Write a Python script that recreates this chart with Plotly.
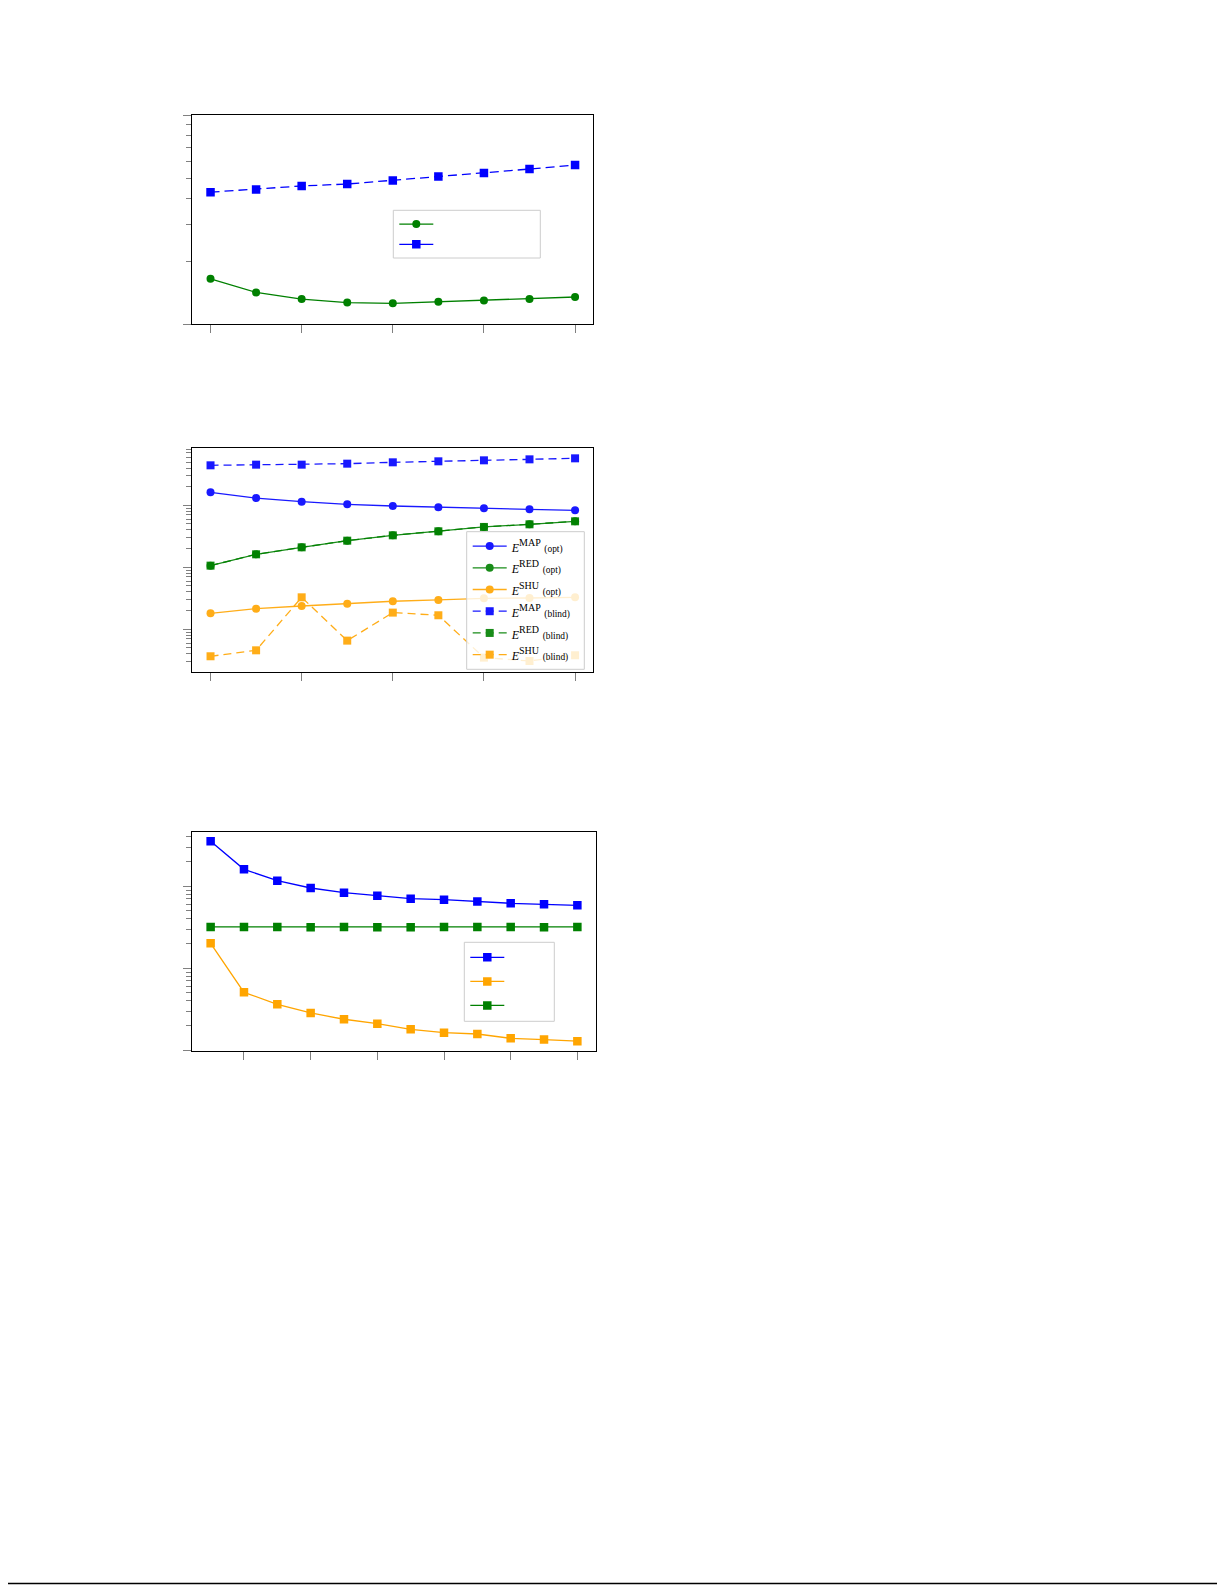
import plotly.graph_objects as go

# page is 1225x1585; body margin of 8px is compensated below
W, H = 1209, 1577
OFF = 8

# ---------------- data ----------------
# Panel 1
p1_x = [0, 1, 2, 3, 4, 5, 6, 7, 8]
p1_green = [1.65, 1.42, 1.32, 1.27, 1.26, 1.28, 1.30, 1.32, 1.35]
p1_blue = [4.28, 4.41, 4.58, 4.68, 4.87, 5.09, 5.28, 5.52, 5.77]
p1_xticks = [0, 2, 4, 6, 8]

# Panel 2
p2_x = [0, 1, 2, 3, 4, 5, 6, 7, 8]
p2_map_opt = [1.62, 1.31, 1.146, 1.038, 0.975, 0.929, 0.895, 0.861, 0.830]
p2_red_opt = [0.1064, 0.162, 0.210, 0.269, 0.328, 0.381, 0.448, 0.494, 0.552]
p2_shu_opt = [0.01811, 0.02153, 0.02377, 0.02594, 0.02831, 0.02972, 0.03162, 0.03199, 0.03281]
p2_map_blind = [4.42, 4.53, 4.53, 4.70, 4.94, 5.13, 5.32, 5.52, 5.73]
p2_red_blind = [0.1064, 0.162, 0.210, 0.269, 0.328, 0.381, 0.448, 0.494, 0.552]
p2_shu_blind = [0.00367, 0.00458, 0.0328, 0.00656, 0.01858, 0.01683, 0.00349, 0.00308, 0.00381]
p2_xticks = [0, 2, 4, 6, 8]
p2_labels = [("MAP", "opt"), ("RED", "opt"), ("SHU", "opt"),
             ("MAP", "blind"), ("RED", "blind"), ("SHU", "blind")]

# Panel 3
p3_x = [1, 2, 3, 4, 5, 6, 7, 8, 9, 10, 11, 12]
p3_blue = [3.53, 1.61, 1.172, 0.953, 0.836, 0.769, 0.706, 0.687, 0.650, 0.620, 0.603, 0.586]
p3_orange = [0.2017, 0.0509, 0.0364, 0.0285, 0.0239, 0.0211, 0.0180, 0.0164, 0.0158, 0.0140, 0.0135, 0.0129]
p3_green = [0.319, 0.319, 0.319, 0.317, 0.319, 0.317, 0.317, 0.319, 0.319, 0.319, 0.317, 0.319]
p3_xticks = [2, 4, 6, 8, 10, 12]

BLUE = "#0000ff"
GREEN = "#008000"
ORANGE = "#ffa500"
TICKC = "#808080"


def px_x(v):
    return (v - OFF) / W


def px_y(v):
    return 1 - (v - OFF) / H


fig = go.Figure()

# ---------------- panel 1 ----------------
fig.add_trace(go.Scatter(x=p1_x, y=p1_green, mode="lines+markers", xaxis="x", yaxis="y",
                         line=dict(color=GREEN, width=1.3),
                         marker=dict(symbol="circle", size=8, color=GREEN),
                         name="", legend="legend"))
fig.add_trace(go.Scatter(x=p1_x, y=p1_blue, mode="lines+markers", xaxis="x", yaxis="y",
                         line=dict(color=BLUE, width=1.3, dash="9px,5px"),
                         marker=dict(symbol="square", size=8.5, color=BLUE),
                         name="", showlegend=False))
# legend key for the blue series (drawn solid in the key, as in the reference)
fig.add_trace(go.Scatter(x=[None], y=[None], mode="lines+markers", xaxis="x", yaxis="y",
                         line=dict(color=BLUE, width=1.3),
                         marker=dict(symbol="square", size=8.5, color=BLUE),
                         name="", legend="legend", hoverinfo="skip"))

# ---------------- panel 2 ----------------
p2_series = [
    (p2_map_opt, BLUE, "circle", "solid"),
    (p2_red_opt, GREEN, "circle", "solid"),
    (p2_shu_opt, ORANGE, "circle", "solid"),
    (p2_map_blind, BLUE, "square", "8px,5px"),
    (p2_red_blind, GREEN, "square", "8px,5px"),
    (p2_shu_blind, ORANGE, "square", "8px,5px"),
]
for (vals, col, sym, dash), (sup, tag) in zip(p2_series, p2_labels):
    nm = ("<span style='font-size:12px'><i>E</i></span>"
          "<sup><span style='font-size:10px'>%s</span></sup> "
          "<span style='font-size:9.4px'>(%s)</span>") % (sup, tag)
    fig.add_trace(go.Scatter(x=p2_x, y=vals, mode="lines+markers", xaxis="x2", yaxis="y2",
                             line=dict(color=col, width=1.3, dash=dash),
                             marker=dict(symbol=sym, size=8, color=col),
                             opacity=0.9, name=nm, legend="legend2"))

# ---------------- panel 3 ----------------
for vals, col in [(p3_blue, BLUE), (p3_orange, ORANGE), (p3_green, GREEN)]:
    fig.add_trace(go.Scatter(x=p3_x, y=vals, mode="lines+markers", xaxis="x3", yaxis="y3",
                             line=dict(color=col, width=1.3),
                             marker=dict(symbol="square", size=8.5, color=col),
                             name="", legend="legend3"))


def xcfg(domain, rng, tickvals, anchor):
    return dict(domain=domain, range=rng, anchor=anchor, showgrid=False, zeroline=False,
                showline=True, mirror=True, linecolor="black", linewidth=1.3,
                ticks="outside", ticklen=8, tickwidth=1, tickcolor=TICKC,
                tickmode="array", tickvals=tickvals, showticklabels=False)


def ycfg(domain, rng, anchor):
    return dict(domain=domain, range=rng, anchor=anchor, type="log", showgrid=False, zeroline=False,
                showline=True, mirror=True, linecolor="black", linewidth=1.3,
                ticks="outside", ticklen=8, tickwidth=1, tickcolor=TICKC,
                dtick=1, showticklabels=False,
                minor=dict(ticks="outside", ticklen=5.5, tickwidth=1, tickcolor=TICKC,
                           dtick="D1", showgrid=False))


def leg(x, y, size):
    return dict(bgcolor="rgba(0,0,0,0)", bordercolor="rgba(0,0,0,0)", borderwidth=1,
                xanchor="left", yanchor="top", itemwidth=34, x=px_x(x), y=px_y(y),
                font=dict(family="Liberation Serif", size=size, color="black"))


def box(x0, x1, y0, y1, fill):
    return dict(type="rect", xref="paper", yref="paper", layer="above",
                x0=px_x(x0), x1=px_x(x1), y0=px_y(y1), y1=px_y(y0),
                fillcolor=fill, line=dict(color="#cccccc", width=1))


fig.update_layout(
    width=W, height=H, margin=dict(l=0, r=0, t=0, b=0),
    paper_bgcolor="white", plot_bgcolor="white", showlegend=True,
    xaxis=xcfg([px_x(192.3), px_x(593.3)], [-0.4, 8.4], p1_xticks, "y"),
    yaxis=ycfg([px_y(324.3), px_y(115)], [0, 1], "x"),
    xaxis2=xcfg([px_x(192.3), px_x(593.3)], [-0.4, 8.4], p2_xticks, "y2"),
    yaxis2=ycfg([px_y(672.3), px_y(448.3)], [-2.694, 0.92], "x2"),
    xaxis3=xcfg([px_x(192.3), px_x(595.7)], [0.45, 12.55], p3_xticks, "y3"),
    yaxis3=ycfg([px_y(1050.7), px_y(831.5)], [-2.005, 0.668], "x3"),
    legend=leg(393.3, 207.9, 13.3),
    legend2=leg(466.7, 529.2, 14.4),
    legend3=leg(464.3, 939.3, 16.2),
    shapes=[
        box(393.3, 540.3, 210.3, 258.0, "white"),
        box(466.7, 584.3, 531.7, 669.3, "rgba(255,255,255,0.8)"),
        box(464.3, 554.3, 942.3, 1021.3, "white"),
        dict(type="line", xref="paper", yref="paper", x0=0, x1=1,
             y0=px_y(1583.5), y1=px_y(1583.5), line=dict(color="black", width=1.5)),
    ],
)

fig.write_html("out.html")
